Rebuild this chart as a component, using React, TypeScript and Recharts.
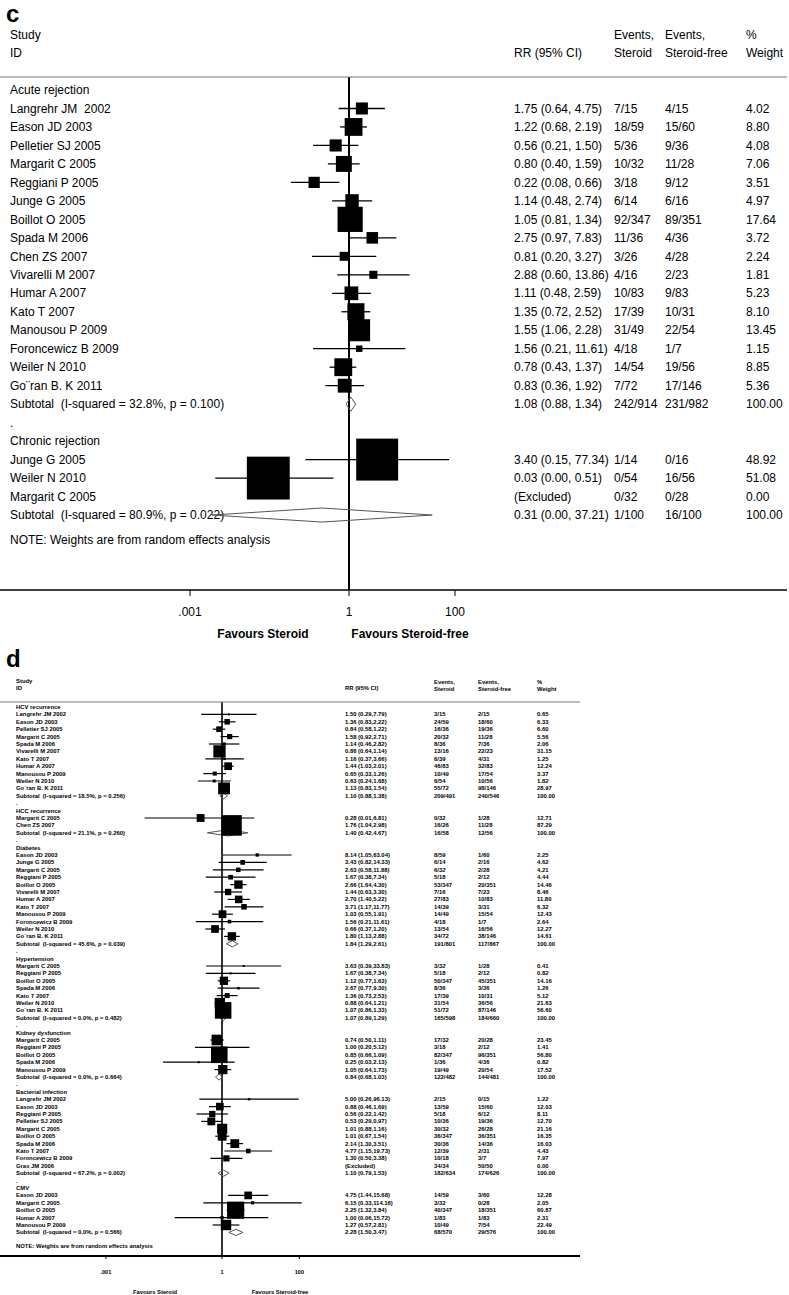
import React from "react";
import { ScatterChart, Scatter, XAxis, YAxis, ErrorBar, ReferenceLine } from "recharts";

const FONT = "'Liberation Sans', Arial, Helvetica, sans-serif";

type Study = { study: string; rr: number | null; lo: number | null; hi: number | null; evS: string; evF: string; w: number };
type Group = { title: string; studies: Study[]; subtotal: Study };

const st = (study: string, rr: number | null, lo: number | null, hi: number | null, evS: string, evF: string, w: number): Study => ({ study, rr, lo, hi, evS, evF, w });

// ---------------- Panel c data ----------------
const cAcuteTitle = "Acute rejection";
const cAcuteStudies: Study[] = [
  st("Langrehr JM  2002", 1.75, 0.64, 4.75, "7/15", "4/15", 4.02),
  st("Eason JD 2003", 1.22, 0.68, 2.19, "18/59", "15/60", 8.8),
  st("Pelletier SJ 2005", 0.56, 0.21, 1.5, "5/36", "9/36", 4.08),
  st("Margarit C 2005", 0.8, 0.4, 1.59, "10/32", "11/28", 7.06),
  st("Reggiani P 2005", 0.22, 0.08, 0.66, "3/18", "9/12", 3.51),
  st("Junge G 2005", 1.14, 0.48, 2.74, "6/14", "6/16", 4.97),
  st("Boillot O 2005", 1.05, 0.81, 1.34, "92/347", "89/351", 17.64),
  st("Spada M 2006", 2.75, 0.97, 7.83, "11/36", "4/36", 3.72),
  st("Chen ZS 2007", 0.81, 0.2, 3.27, "3/26", "4/28", 2.24),
  st("Vivarelli M 2007", 2.88, 0.6, 13.86, "4/16", "2/23", 1.81),
  st("Humar A 2007", 1.11, 0.48, 2.59, "10/83", "9/83", 5.23),
  st("Kato T 2007", 1.35, 0.72, 2.52, "17/39", "10/31", 8.1),
  st("Manousou P 2009", 1.55, 1.06, 2.28, "31/49", "22/54", 13.45),
  st("Foroncewicz B 2009", 1.56, 0.21, 11.61, "4/18", "1/7", 1.15),
  st("Weiler N 2010", 0.78, 0.43, 1.37, "14/54", "19/56", 8.85),
  st("Go\u00A8ran B. K 2011", 0.83, 0.36, 1.92, "7/72", "17/146", 5.36),
];
const cAcuteSubtotal = st("Subtotal  (I-squared = 32.8%, p = 0.100)", 1.08, 0.88, 1.34, "242/914", "231/982", 100);

const cChronicTitle = "Chronic rejection";
const cChronicStudies: Study[] = [
  st("Junge G 2005", 3.4, 0.15, 77.34, "1/14", "0/16", 48.92),
  st("Weiler N 2010", 0.03, 0.003, 0.51, "0/54", "16/56", 51.08),
  st("Margarit C 2005", null, null, null, "0/32", "0/28", 0),
];
const cChronicSubtotal = st("Subtotal  (I-squared = 80.9%, p = 0.022)", 0.31, 0.0026, 37.21, "1/100", "16/100", 100);

// ---------------- Panel d data ----------------
const dHcvTitle = "HCV recurrence";
const dHcvStudies: Study[] = [
  st("Langrehr JM 2002", 1.5, 0.29, 7.79, "3/15", "2/15", 0.65),
  st("Eason JD 2003", 1.36, 0.83, 2.22, "24/59", "18/60", 6.33),
  st("Pelletier SJ 2005", 0.84, 0.58, 1.22, "16/36", "19/36", 6.6),
  st("Margarit C 2005", 1.58, 0.92, 2.71, "20/32", "11/28", 5.56),
  st("Spada M 2006", 1.14, 0.46, 2.82, "8/36", "7/36", 2.06),
  st("Vivarelli M 2007", 0.86, 0.64, 1.14, "13/16", "22/23", 31.15),
  st("Kato T 2007", 1.16, 0.37, 3.66, "6/39", "4/31", 1.25),
  st("Humar A 2007", 1.44, 1.03, 2.01, "46/83", "32/83", 12.24),
  st("Manousou P 2009", 0.65, 0.33, 1.26, "10/49", "17/54", 3.37),
  st("Weiler N 2010", 0.63, 0.24, 1.68, "6/54", "10/56", 1.82),
  st("Go\u00A8ran B. K 2011", 1.13, 0.83, 1.54, "55/72", "98/146", 28.97),
];
const dHcvSubtotal = st("Subtotal  (I-squared = 18.5%, p = 0.256)", 1.1, 0.88, 1.38, "209/491", "240/546", 100);

const dHccTitle = "HCC recurrence";
const dHccStudies: Study[] = [
  st("Margarit C 2005", 0.28, 0.01, 6.81, "0/32", "1/28", 12.71),
  st("Chen ZS 2007", 1.76, 1.04, 2.98, "16/26", "11/28", 87.29),
];
const dHccSubtotal = st("Subtotal  (I-squared = 21.1%, p = 0.260)", 1.4, 0.42, 4.67, "16/58", "12/56", 100);

const dDiabetesTitle = "Diabetes";
const dDiabetesStudies: Study[] = [
  st("Eason JD 2003", 8.14, 1.05, 63.04, "8/59", "1/60", 2.25),
  st("Junge G 2005", 3.43, 0.82, 14.33, "6/14", "2/16", 4.62),
  st("Margarit C 2005", 2.63, 0.58, 11.88, "6/32", "2/28", 4.21),
  st("Reggiani P 2005", 1.67, 0.38, 7.34, "5/18", "2/12", 4.44),
  st("Boillot O 2005", 2.66, 1.64, 4.3, "53/347", "20/351", 14.46),
  st("Vivarelli M 2007", 1.44, 0.63, 3.3, "7/16", "7/23", 8.46),
  st("Humar A 2007", 2.7, 1.4, 5.22, "27/83", "10/83", 11.8),
  st("Kato T 2007", 3.71, 1.17, 11.77, "14/39", "3/31", 6.32),
  st("Manousou P 2009", 1.03, 0.55, 1.91, "14/49", "15/54", 12.43),
  st("Foroncewicz B 2009", 1.56, 0.21, 11.61, "4/18", "1/7", 2.64),
  st("Weiler N 2010", 0.66, 0.37, 1.2, "13/54", "16/56", 12.27),
  st("Go\u00A8ran B. K 2011", 1.8, 1.13, 2.88, "34/72", "38/146", 14.61),
];
const dDiabetesSubtotal = st("Subtotal  (I-squared = 45.6%, p = 0.039)", 1.84, 1.29, 2.61, "191/801", "117/867", 100);

const dHypertensionTitle = "Hypertension";
const dHypertensionStudies: Study[] = [
  st("Margarit C 2005", 3.63, 0.39, 33.83, "3/32", "1/28", 0.41),
  st("Reggiani P 2005", 1.67, 0.38, 7.34, "5/18", "2/12", 0.82),
  st("Boillot O 2005", 1.12, 0.77, 1.63, "50/347", "45/351", 14.16),
  st("Spada M 2006", 2.67, 0.77, 9.3, "8/36", "3/36", 1.26),
  st("Kato T 2007", 1.36, 0.73, 2.53, "17/39", "10/31", 5.12),
  st("Weiler N 2010", 0.88, 0.64, 1.21, "31/54", "36/56", 21.63),
  st("Go\u00A8ran B. K 2011", 1.07, 0.86, 1.33, "51/72", "87/146", 56.6),
];
const dHypertensionSubtotal = st("Subtotal  (I-squared = 0.0%, p = 0.482)", 1.07, 0.89, 1.29, "165/598", "184/660", 100);

const dKidneyTitle = "Kidney dysfunction";
const dKidneyStudies: Study[] = [
  st("Margarit C 2005", 0.74, 0.5, 1.11, "17/32", "20/28", 23.45),
  st("Reggiani P 2005", 1.0, 0.2, 5.12, "3/18", "2/12", 1.41),
  st("Boillot O 2005", 0.85, 0.66, 1.09, "82/347", "96/351", 56.8),
  st("Spada M 2006", 0.25, 0.03, 2.13, "1/36", "4/36", 0.82),
  st("Manousou P 2009", 1.05, 0.64, 1.73, "19/49", "20/54", 17.52),
];
const dKidneySubtotal = st("Subtotal  (I-squared = 0.0%, p = 0.664)", 0.84, 0.68, 1.03, "122/482", "144/481", 100);

const dBacterialTitle = "Bacterial infection";
const dBacterialStudies: Study[] = [
  st("Langrehr JM 2002", 5.0, 0.26, 96.13, "2/15", "0/15", 1.22),
  st("Eason JD 2003", 0.88, 0.46, 1.69, "13/59", "15/60", 12.03),
  st("Reggiani P 2005", 0.56, 0.22, 1.42, "5/18", "6/12", 8.11),
  st("Pelletier SJ 2005", 0.53, 0.29, 0.97, "10/36", "19/36", 12.7),
  st("Margarit C 2005", 1.01, 0.88, 1.16, "30/32", "26/28", 21.16),
  st("Boillot O 2005", 1.01, 0.67, 1.54, "36/347", "36/351", 16.35),
  st("Spada M 2006", 2.14, 1.3, 3.51, "30/36", "14/36", 16.03),
  st("Kato T 2007", 4.77, 1.15, 19.73, "12/39", "2/31", 4.43),
  st("Foroncewicz B 2009", 1.3, 0.5, 3.38, "10/18", "3/7", 7.97),
  st("Gras JM 2006", null, null, null, "34/34", "50/50", 0),
];
const dBacterialSubtotal = st("Subtotal  (I-squared = 67.2%, p = 0.002)", 1.1, 0.79, 1.53, "182/634", "174/626", 100);

const dCmvTitle = "CMV";
const dCmvStudies: Study[] = [
  st("Eason JD 2003", 4.75, 1.44, 15.68, "14/59", "3/60", 12.28),
  st("Margarit C 2005", 6.15, 0.33, 114.16, "3/32", "0/28", 2.05),
  st("Boillot O 2005", 2.25, 1.32, 3.84, "40/347", "18/351", 60.87),
  st("Humar A 2007", 1.0, 0.06, 15.72, "1/83", "1/83", 2.31),
  st("Manousou P 2009", 1.27, 0.57, 2.81, "10/49", "7/54", 22.49),
];
const dCmvSubtotal = st("Subtotal  (I-squared = 0.0%, p = 0.566)", 2.28, 1.5, 3.47, "68/570", "29/576", 100);

const noteText = "NOTE: Weights are from random effects analysis";
const axisTicks = [0.001, 1, 100];
const axisTickLabels = [".001", "1", "100"];
const favoursLeft = "Favours Steroid";
const favoursRight = "Favours Steroid-free";

const cGroups: Group[] = [
  { title: cAcuteTitle, studies: cAcuteStudies, subtotal: cAcuteSubtotal },
  { title: cChronicTitle, studies: cChronicStudies, subtotal: cChronicSubtotal },
];
const dGroups: Group[] = [
  { title: dHcvTitle, studies: dHcvStudies, subtotal: dHcvSubtotal },
  { title: dHccTitle, studies: dHccStudies, subtotal: dHccSubtotal },
  { title: dDiabetesTitle, studies: dDiabetesStudies, subtotal: dDiabetesSubtotal },
  { title: dHypertensionTitle, studies: dHypertensionStudies, subtotal: dHypertensionSubtotal },
  { title: dKidneyTitle, studies: dKidneyStudies, subtotal: dKidneySubtotal },
  { title: dBacterialTitle, studies: dBacterialStudies, subtotal: dBacterialSubtotal },
  { title: dCmvTitle, studies: dCmvStudies, subtotal: dCmvSubtotal },
];

// ---------------- layout ----------------
type Cfg = {
  height: number; plotRight: number; plotTop: number; axisY: number;
  x1: number; ppd: number; row0: number; rowH: number;
  fs: number; fw: number | string; labelX: number; cols: number[]; ciSep: string;
  boxK: number; boxMin: number; diamondH: number; ciW: number; refW: number; axisW: number;
  tickSize: number; tickMargin: number; tickFs: number; tickFw: number | string; noteGap: number;
};

const cCfg: Cfg = {
  height: 650, plotRight: 787, plotTop: 77, axisY: 590,
  x1: 349, ppd: 53, row0: 90, rowH: 18.48,
  fs: 12, fw: "normal", labelX: 10, cols: [514, 614, 665, 746], ciSep: ", ",
  boxK: 6, boxMin: 3, diamondH: 0.38, ciW: 1.3, refW: 2, axisW: 1.5,
  tickSize: 6, tickMargin: 11, tickFs: 12, tickFw: "normal", noteGap: 1.35,
};

const dCfg: Cfg = {
  height: 655, plotRight: 580, plotTop: 62, axisY: 616,
  x1: 222, ppd: 38.7, row0: 67, rowH: 7.4,
  fs: 5.9, fw: "bold", labelX: 16, cols: [345, 434, 478, 537], ciSep: ",",
  boxK: 2.2, boxMin: 2, diamondH: 0.42, ciW: 1.2, refW: 1.6, axisW: 2,
  tickSize: 3, tickMargin: 11, tickFs: 5.6, tickFw: "bold", noteGap: 1.84,
};

type Row = { y: number; kind: "group" | "study" | "subtotal" | "dot" | "note"; label: string; s?: Study };

function buildRows(groups: Group[], noteGap: number): Row[] {
  const rows: Row[] = [];
  let r = 0;
  groups.forEach((g, gi) => {
    if (gi > 0) rows.push({ y: r++, kind: "dot", label: "." });
    rows.push({ y: r++, kind: "group", label: g.title });
    g.studies.forEach((s) => rows.push({ y: r++, kind: "study", label: s.study, s }));
    rows.push({ y: r++, kind: "subtotal", label: g.subtotal.study, s: g.subtotal });
  });
  rows.push({ y: r - 1 + noteGap, kind: "note", label: noteText });
  return rows;
}

function Forest({ cfg, groups }: { cfg: Cfg; groups: Group[] }) {
  const W = 789;
  const rows = buildRows(groups, cfg.noteGap);
  const textData = rows.map((r) => ({ ...r, x: 1 }));
  const boxData = rows
    .filter((r) => r.kind === "study" && r.s && r.s.rr != null)
    .map((r) => {
      const s = r.s as Study;
      return { x: s.rr as number, y: r.y, w: s.w, err: [(s.rr as number) - (s.lo as number), (s.hi as number) - (s.rr as number)] };
    });
  const diamonds = rows
    .filter((r) => r.kind === "subtotal" && r.s && r.s.rr != null)
    .map((r) => {
      const s = r.s as Study;
      return [
        { x: s.lo as number, y: r.y },
        { x: s.rr as number, y: r.y - cfg.diamondH },
        { x: s.hi as number, y: r.y },
        { x: s.rr as number, y: r.y + cfg.diamondH },
        { x: s.lo as number, y: r.y },
      ];
    });

  const xDomain = [Math.pow(10, -cfg.x1 / cfg.ppd), Math.pow(10, (cfg.plotRight - cfg.x1) / cfg.ppd)];
  const yDomain = [(cfg.plotTop - cfg.row0) / cfg.rowH, (cfg.axisY - cfg.row0) / cfg.rowH];

  const TextShape = (p: any) => {
    const r = p.payload as Row;
    const y = p.cy;
    const common: any = { fontSize: cfg.fs, fontFamily: FONT, fill: "#000", fontWeight: cfg.fw, dy: "0.35em", style: { whiteSpace: "pre" } };
    const out: React.ReactNode[] = [
      <text key="l" x={cfg.labelX} y={y} {...common}>{r.label}</text>,
    ];
    if ((r.kind === "study" || r.kind === "subtotal") && r.s) {
      const s = r.s;
      const ci = s.rr == null ? "(Excluded)" : `${s.rr.toFixed(2)} (${(s.lo as number).toFixed(2)}${cfg.ciSep}${(s.hi as number).toFixed(2)})`;
      [ci, s.evS, s.evF, s.w.toFixed(2)].forEach((t, i) => {
        out.push(<text key={i} x={cfg.cols[i]} y={y} {...common}>{t}</text>);
      });
    }
    return <g>{out}</g>;
  };

  const Box = (p: any) => {
    const side = Math.max(cfg.boxK * Math.sqrt(p.payload.w), cfg.boxMin);
    return <rect x={p.cx - side / 2} y={p.cy - side / 2} width={side} height={side} fill="#000" />;
  };

  const Hidden = () => <g />;

  return (
    <ScatterChart width={W} height={cfg.height} margin={{ top: cfg.plotTop, right: W - cfg.plotRight, bottom: 0, left: 0 }}>
      <XAxis
        type="number"
        dataKey="x"
        scale="log"
        domain={xDomain}
        allowDataOverflow
        ticks={axisTicks}
        interval={0}
        tickFormatter={(v: number) => axisTickLabels[axisTicks.indexOf(v)] ?? String(v)}
        height={cfg.height - cfg.axisY}
        axisLine={{ stroke: "#000", strokeWidth: cfg.axisW }}
        tickLine={{ stroke: "#000", strokeWidth: 1 }}
        tickSize={cfg.tickSize}
        tickMargin={cfg.tickMargin}
        tick={{ fill: "#000", fontSize: cfg.tickFs, fontFamily: FONT, fontWeight: cfg.tickFw }}
      />
      <YAxis type="number" dataKey="y" domain={yDomain} reversed hide allowDataOverflow />
      <ReferenceLine x={1} stroke="#000" strokeWidth={cfg.refW} />
      <Scatter data={textData} shape={TextShape} isAnimationActive={false} />
      {diamonds.map((d, i) => (
        <Scatter key={"dm" + i} data={d} line={{ stroke: "#555", strokeWidth: 1 }} shape={Hidden} isAnimationActive={false} />
      ))}
      <Scatter data={boxData} shape={Box} isAnimationActive={false}>
        <ErrorBar dataKey="err" direction="x" width={0} stroke="#000" strokeWidth={cfg.ciW} />
      </Scatter>
    </ScatterChart>
  );
}

const t = (x: number, y: number, s: string, fs: number, fw: number | string = "normal", anchor: string = "start") => (
  <text x={x} y={y} fontSize={fs} fontFamily={FONT} fontWeight={fw} fill="#000" dy="0.35em" textAnchor={anchor as any}>{s}</text>
);

export default function App() {
  return (
    <div style={{ position: "absolute", left: 0, top: 0, width: 789, height: 1295, background: "#fff", overflow: "hidden" }}>
      {/* Panel c */}
      <div style={{ position: "absolute", left: 0, top: 0, width: 789, height: 650 }}>
        <Forest cfg={cCfg} groups={cGroups} />
        <svg width={789} height={650} style={{ position: "absolute", left: 0, top: 0, pointerEvents: "none" }}>
          <text x={6} y={22} fontSize={24} fontWeight="bold" fontFamily={FONT} fill="#000">c</text>
          {t(10, 35, "Study", 12)}
          {t(10, 53, "ID", 12)}
          {t(514, 53, "RR (95% CI)", 12)}
          {t(614, 35, "Events,", 12)}
          {t(614, 53, "Steroid", 12)}
          {t(665, 35, "Events,", 12)}
          {t(665, 53, "Steroid-free", 12)}
          {t(746, 35, "%", 12)}
          {t(746, 53, "Weight", 12)}
          <line x1={0} x2={787} y1={77} y2={77} stroke="#777" strokeWidth={1.2} />
          {t(263, 634, favoursLeft, 12, "bold", "middle")}
          {t(410, 634, favoursRight, 12, "bold", "middle")}
        </svg>
      </div>
      {/* Panel d */}
      <div style={{ position: "absolute", left: 0, top: 640, width: 789, height: 655 }}>
        <Forest cfg={dCfg} groups={dGroups} />
        <svg width={789} height={655} style={{ position: "absolute", left: 0, top: 0, pointerEvents: "none" }}>
          <text x={6} y={27} fontSize={24} fontWeight="bold" fontFamily={FONT} fill="#000">d</text>
          {t(16, 41, "Study", 5.9, "bold")}
          {t(16, 48, "ID", 5.9, "bold")}
          {t(345, 48, "RR (95% CI)", 5.9, "bold")}
          {t(434, 42, "Events,", 5.9, "bold")}
          {t(434, 49, "Steroid", 5.9, "bold")}
          {t(478, 42, "Events,", 5.9, "bold")}
          {t(478, 49, "Steroid-free", 5.9, "bold")}
          {t(537, 42, "%", 5.9, "bold")}
          {t(537, 49, "Weight", 5.9, "bold")}
          <line x1={0} x2={580} y1={62} y2={62} stroke="#777" strokeWidth={1} />
          {t(155, 652, favoursLeft, 5.8, "bold", "middle")}
          {t(280, 652, favoursRight, 5.8, "bold", "middle")}
        </svg>
      </div>
    </div>
  );
}
